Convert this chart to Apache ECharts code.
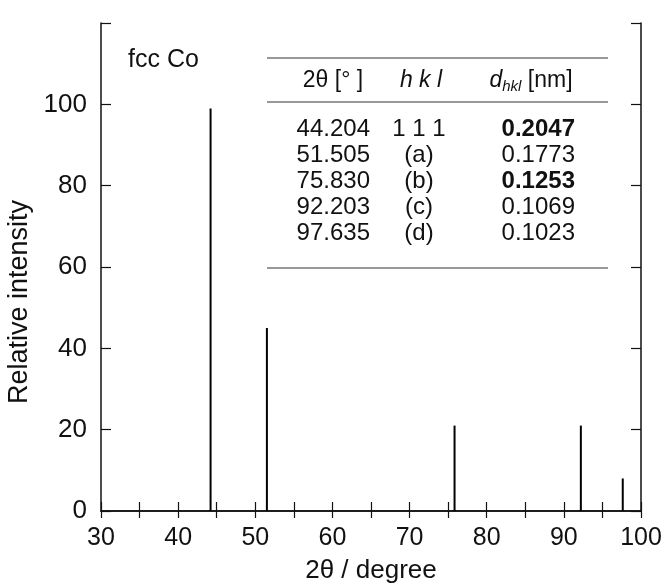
<!DOCTYPE html>
<html>
<head>
<meta charset="utf-8">
<script src="https://cdn.jsdelivr.net/npm/echarts@6/dist/echarts.min.js"></script>
<style>
  html, body { margin: 0; padding: 0; background: #fff; }
  #chart { width: 664px; height: 584px; }
</style>
</head>
<body>
<div id="chart"></div>
<script>
// peak positions (2θ) and relative intensities
var peakPos = [44.204, 51.505, 75.830, 92.203, 97.635];
var peakInt = [99, 45, 21, 21, 8];

// table columns
var colTheta = ['44.204', '51.505', '75.830', '92.203', '97.635'];
var colHkl = ['1 1 1', '(a)', '(b)', '(c)', '(d)'];
var colD = ['0.2047', '0.1773', '0.1253', '0.1069', '0.1023'];
var boldD = [true, false, true, false, false];

var xTicks = [30, 40, 50, 60, 70, 80, 90, 100];
var yTicks = [0, 20, 40, 60, 80, 100];

var FONT = '"Liberation Sans", Arial, Helvetica, sans-serif';

var chart = echarts.init(document.getElementById('chart'), null, { renderer: 'canvas' });

var peaks = peakPos.map(function (x, i) { return [x, peakInt[i]]; });

// 表格
var tableG = [];
var rowY0 = 129, rowStep = 26;
var lineL = 267, lineR = 608;
[58, 102, 268].forEach(function (y) {
  tableG.push({
    type: 'line',
    shape: { x1: lineL, y1: y, x2: lineR, y2: y },
    style: { stroke: '#333', lineWidth: 1.2 }
  });
});
tableG.push({
  type: 'text', x: 333, y: 81,
  style: { text: '2θ [° ]', font: '23px ' + FONT, fill: '#111', align: 'center', verticalAlign: 'middle' }
});
tableG.push({
  type: 'text', x: 421, y: 81,
  style: { text: 'h k l', font: 'italic 23px ' + FONT, fill: '#111', align: 'center', verticalAlign: 'middle' }
});
tableG.push({
  type: 'text', x: 531, y: 81,
  style: {
    text: '{d|d}{s|hkl}{n| [nm]}',
    align: 'center', verticalAlign: 'middle',
    rich: {
      d: { font: 'italic 23px ' + FONT, fill: '#111' },
      s: { font: 'italic 15px ' + FONT, fill: '#111', padding: [12, 0, 0, 0] },
      n: { font: '23px ' + FONT, fill: '#111' }
    }
  }
});
for (var i = 0; i < colTheta.length; i++) {
  var y = rowY0 + i * rowStep;
  tableG.push({
    type: 'text', x: 370, y: y,
    style: { text: colTheta[i], font: '24px ' + FONT, fill: '#111', align: 'right', verticalAlign: 'middle' }
  });
  tableG.push({
    type: 'text', x: 419, y: y,
    style: { text: colHkl[i], font: '24px ' + FONT, fill: '#111', align: 'center', verticalAlign: 'middle' }
  });
  tableG.push({
    type: 'text', x: 575, y: y,
    style: { text: colD[i], font: (boldD[i] ? 'bold ' : '') + '24px ' + FONT, fill: '#111', align: 'right', verticalAlign: 'middle' }
  });
}
tableG.push({
  type: 'text', x: 128, y: 60,
  style: { text: 'fcc Co', font: '25px ' + FONT, fill: '#111', align: 'left', verticalAlign: 'middle' }
});

var axisLineS = { show: true, lineStyle: { color: '#111', width: 1.5 } };
var tickLine = { color: '#111', width: 1.2 };

var option = {
  animation: false,
  backgroundColor: '#fff',
  grid: { left: 101, right: 23, top: 23, bottom: 73, containLabel: false, outerBoundsMode: 'none' },
  xAxis: [
    {
      type: 'value', position: 'bottom', min: 30, max: 100, interval: 10,
      name: '2θ / degree', nameLocation: 'middle', nameGap: 47,
      nameTextStyle: { fontFamily: FONT, fontSize: 26, color: '#111' },
      axisLine: axisLineS,
      axisTick: { show: true, inside: false, length: 7, lineStyle: tickLine },
      minorTick: { show: true, splitNumber: 2, length: 7, lineStyle: tickLine },
      axisLabel: {
        fontFamily: FONT, fontSize: 25, color: '#111', margin: 15,
        formatter: function (v) { return xTicks.indexOf(v) >= 0 ? String(v) : ''; }
      },
      splitLine: { show: false }
    },
    {
      type: 'value', position: 'top', min: 30, max: 100, interval: 10,
      axisLine: axisLineS,
      axisTick: { show: true, inside: false, length: 9, lineStyle: tickLine },
      minorTick: { show: true, splitNumber: 2, length: 9, lineStyle: tickLine },
      axisLabel: { show: false },
      splitLine: { show: false }
    }
  ],
  yAxis: [
    {
      type: 'value', position: 'left', min: 0, max: 120, interval: 20,
      name: 'Relative intensity', nameLocation: 'middle', nameGap: 60,
      nameTextStyle: { fontFamily: FONT, fontSize: 27, color: '#111', padding: [0, 70, 0, 0] },
      axisLine: axisLineS,
      axisTick: { show: true, inside: true, length: 10, lineStyle: tickLine },
      axisLabel: {
        fontFamily: FONT, fontSize: 26, color: '#111', margin: 14,
        formatter: function (v) { return yTicks.indexOf(v) >= 0 ? String(v) : ''; }
      },
      splitLine: { show: false }
    },
    {
      type: 'value', position: 'right', min: 0, max: 120, interval: 20,
      axisLine: axisLineS,
      axisTick: { show: true, inside: true, length: 10, lineStyle: tickLine },
      axisLabel: { show: false },
      splitLine: { show: false }
    }
  ],
  series: [
    {
      type: 'bar',
      xAxisIndex: 0, yAxisIndex: 0,
      barWidth: 2,
      itemStyle: { color: '#000' },
      data: peaks
    }
  ],
  graphic: tableG
};

chart.setOption(option);
</script>
</body>
</html>
